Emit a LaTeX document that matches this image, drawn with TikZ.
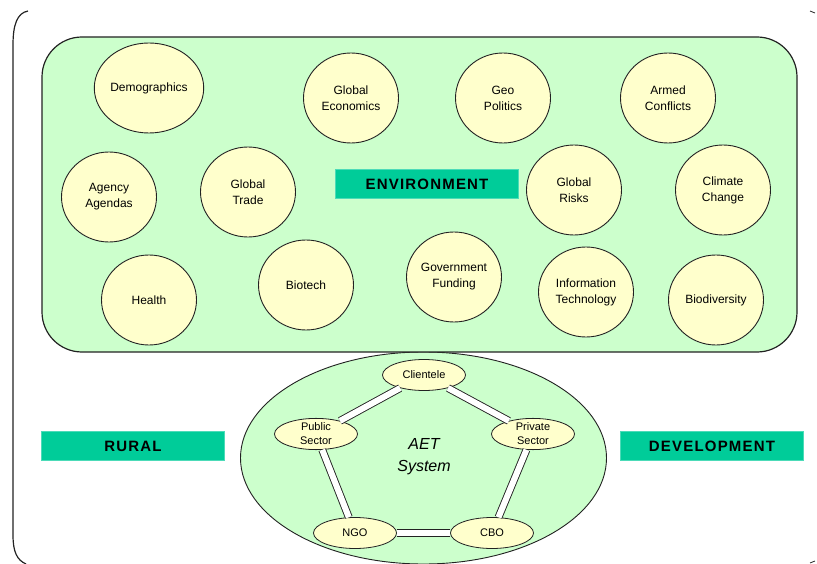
\documentclass[tikz,border=0pt]{standalone}
\usepackage{fontspec}
\setmainfont{Liberation Sans}
\usetikzlibrary{shapes.geometric}
\definecolor{envgreen}{HTML}{CCFFCC}
\definecolor{bubble}{HTML}{FFFFCC}
\definecolor{teal}{HTML}{00CC99}
\definecolor{edge}{HTML}{222222}
\tikzset{
  topic/.style={ellipse, draw=edge, line width=0.9pt, fill=bubble, minimum width=95pt, minimum height=90pt, inner sep=0pt, align=center, font=\fontsize{12}{16}\selectfont},
  actor/.style={ellipse, draw=edge, line width=0.8pt, fill=bubble, minimum width=83pt, minimum height=31pt, inner sep=0pt, align=center, font=\fontsize{11}{14}\selectfont},
  banner/.style={rectangle, fill=teal, draw=teal!70!white, line width=0.6pt, minimum width=183pt, minimum height=29pt, inner sep=0pt, font=\fontsize{15}{18}\selectfont\bfseries\addfontfeatures{LetterSpace=8}},
  link/.style={draw=edge, line width=0.9pt, double=white, double distance=6pt},
}
\begin{document}
\begin{tikzpicture}[x=1pt,y=-1pt]
\useasboundingbox (0,0) rectangle (817,564);
% outer bracket
\draw[edge, line width=1.2pt] (28,11) .. controls (17,13) and (13,25) .. (13,45) -- (13,535) .. controls (13,552) and (17,560) .. (26,564);
\draw[edge, line width=0.8pt] (810,11) -- (815,13);
\draw[edge, line width=0.8pt] (810,563) -- (815,561);
% AET system ellipse (behind)
\node[ellipse, draw=edge, line width=0.9pt, fill=envgreen, minimum width=366pt, minimum height=212pt, inner sep=0pt] (aet) at (423.5,458) {};
% environment container
\node[rectangle, rounded corners=40pt, draw=edge, line width=1.2pt, fill=envgreen, minimum width=755pt, minimum height=315pt, inner sep=0pt] (env) at (419.5,194.5) {};
\node[banner] (envlabel) at (427,184) {ENVIRONMENT};
% topics
\node[topic] (demo) at (149,88) {Demographics};
\node[topic] (geco) at (351,98) {Global\\Economics};
\node[topic] (geo) at (503,98) {Geo\\Politics};
\node[topic] (arm) at (668,98) {Armed\\Conflicts};
\node[topic] (agency) at (109,197) {Agency\\Agendas};
\node[topic] (trade) at (248,192) {Global\\Trade};
\node[topic] (risks) at (574,190) {Global\\Risks};
\node[topic] (climate) at (723,190) {Climate\\Change};
\node[topic] (health) at (149,300) {Health};
\node[topic] (biotech) at (306,285) {Biotech};
\node[topic] (gov) at (454,277) {Government\\Funding};
\node[topic] (it) at (586,292) {Information\\Technology};
\node[topic] (bio) at (716,300) {Biodiversity};
% AET actors
\node[actor] (cli) at (424,375) {Clientele};
\node[actor] (pub) at (316,434) {Public\\Sector};
\node[actor] (pri) at (533,434) {Private\\Sector};
\node[actor] (ngo) at (355,533) {NGO};
\node[actor] (cbo) at (492,533) {CBO};
\path[link] (cli) -- (pub);
\path[link] (cli) -- (pri);
\path[link] (pub) -- (ngo);
\path[link] (pri) -- (cbo);
\path[link] (ngo) -- (cbo);
\node[align=center, font=\fontsize{16}{22}\selectfont\itshape] (aetlabel) at (424,457) {AET\\System};
% side banners
\node[banner] (rural) at (133,446) {RURAL};
\node[banner] (dev) at (712,446) {DEVELOPMENT};
\end{tikzpicture}
\end{document}
